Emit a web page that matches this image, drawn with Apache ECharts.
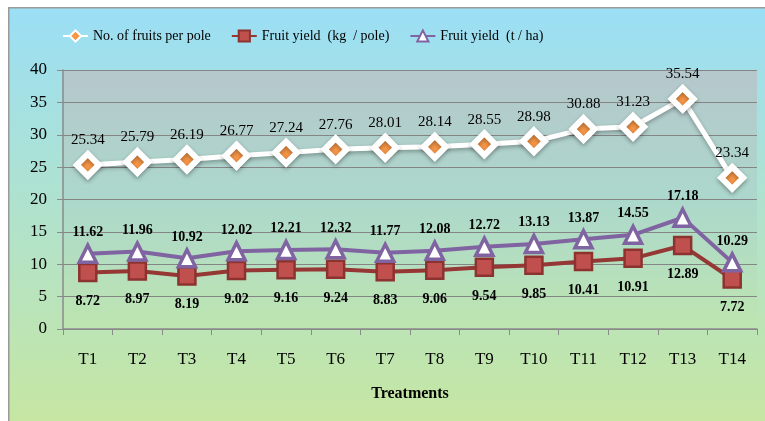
<!DOCTYPE html>
<html><head><meta charset="utf-8">
<script src="https://cdn.jsdelivr.net/npm/echarts@6/dist/echarts.min.js"></script>
<style>html,body{margin:0;padding:0;background:#fff}#c{width:765px;height:421px}</style>
</head><body><div id="c"></div>
<script>
var categories = ['T1','T2','T3','T4','T5','T6','T7','T8','T9','T10','T11','T12','T13','T14'];
var fruitsPerPole = [25.34,25.79,26.19,26.77,27.24,27.76,28.01,28.14,28.55,28.98,30.88,31.23,35.54,23.34];
var yieldKgPole = [8.72,8.97,8.19,9.02,9.16,9.24,8.83,9.06,9.54,9.85,10.41,10.91,12.89,7.72];
var yieldTHa = [11.62,11.96,10.92,12.02,12.21,12.32,11.77,12.08,12.72,13.13,13.87,14.55,17.18,10.29];
var yTicks = {min:0, max:40, interval:5};

var serif = '"Liberation Serif","Times New Roman",serif';
var chart = echarts.init(document.getElementById('c'));
chart.setOption({
  animation:false,
  graphic:[{type:'rect', left:8, top:7, z:-10, shape:{width:757, height:414},
    style:{fill:new echarts.graphic.LinearGradient(0,0,0,1,[{offset:0,color:'#9bdff6'},{offset:1,color:'#c6e6a2'}]), stroke:'#9a9a9a', lineWidth:1.5}}],
  legend:{left:57, top:24, itemWidth:25, itemHeight:14, itemGap:20,
    textStyle:{fontFamily:serif, fontSize:14, color:'#000'},
    data:['No. of fruits per pole','Fruit yield  (kg  / pole)','Fruit yield  (t / ha)']},
  grid:{left:63, right:8, top:70, bottom:92, show:true, borderWidth:0,
    backgroundColor:new echarts.graphic.LinearGradient(0,0,0,1,[{offset:0,color:'#b5c7cb'},{offset:0.5,color:'#acd8cc'},{offset:1,color:'#bde5b0'}])},
  xAxis:{type:'category', data:categories, boundaryGap:true,
    name:'Treatments', nameLocation:'middle', nameGap:57,
    nameTextStyle:{fontFamily:serif, fontSize:16, fontWeight:'bold', color:'#000'},
    axisLine:{lineStyle:{color:'#8a8a8a', width:1.5}},
    axisTick:{show:true, length:6, lineStyle:{color:'#8a8a8a'}},
    axisLabel:{fontFamily:serif, fontSize:17, color:'#000', margin:22}},
  yAxis:{type:'value', min:yTicks.min, max:yTicks.max, interval:yTicks.interval,
    axisLine:{show:true, lineStyle:{color:'#8a8a8a', width:1.5}},
    axisTick:{show:true, length:6, lineStyle:{color:'#8a8a8a'}},
    axisLabel:{fontFamily:serif, fontSize:17, color:'#000', margin:16},
    splitLine:{lineStyle:{color:'#858585', width:1.2}}},
  series:[
    {name:'No. of fruits per pole', type:'line', data:fruitsPerPole,
      symbol:'diamond', symbolSize:22,
      lineStyle:{color:'#ffffff', width:5, shadowColor:'rgba(0,0,0,0.3)', shadowBlur:4, shadowOffsetY:2},
      itemStyle:{color:'#f79646', borderColor:'#ffffff', borderWidth:6, shadowColor:'rgba(0,0,0,0.3)', shadowBlur:4, shadowOffsetY:2},
      label:{show:true, position:'top', distance:3, fontFamily:serif, fontSize:15, color:'#000'}},
    {name:'Fruit yield  (kg  / pole)', type:'line', data:yieldKgPole,
      symbol:'rect', symbolSize:17,
      lineStyle:{color:'#953735', width:4},
      itemStyle:{color:'#c0504d', borderColor:'#8c3330', borderWidth:2.5},
      label:{show:true, position:'bottom', distance:12, fontFamily:serif, fontSize:14, fontWeight:'bold', color:'#000'}},
    {name:'Fruit yield  (t / ha)', type:'line', data:yieldTHa,
      symbol:'triangle', symbolSize:17,
      lineStyle:{color:'#8064a2', width:4},
      itemStyle:{color:'#ffffff', borderColor:'#8064a2', borderWidth:3.5},
      label:{show:true, position:'top', distance:4, fontFamily:serif, fontSize:14, fontWeight:'bold', color:'#000'}}
  ]
});
</script></body></html>
